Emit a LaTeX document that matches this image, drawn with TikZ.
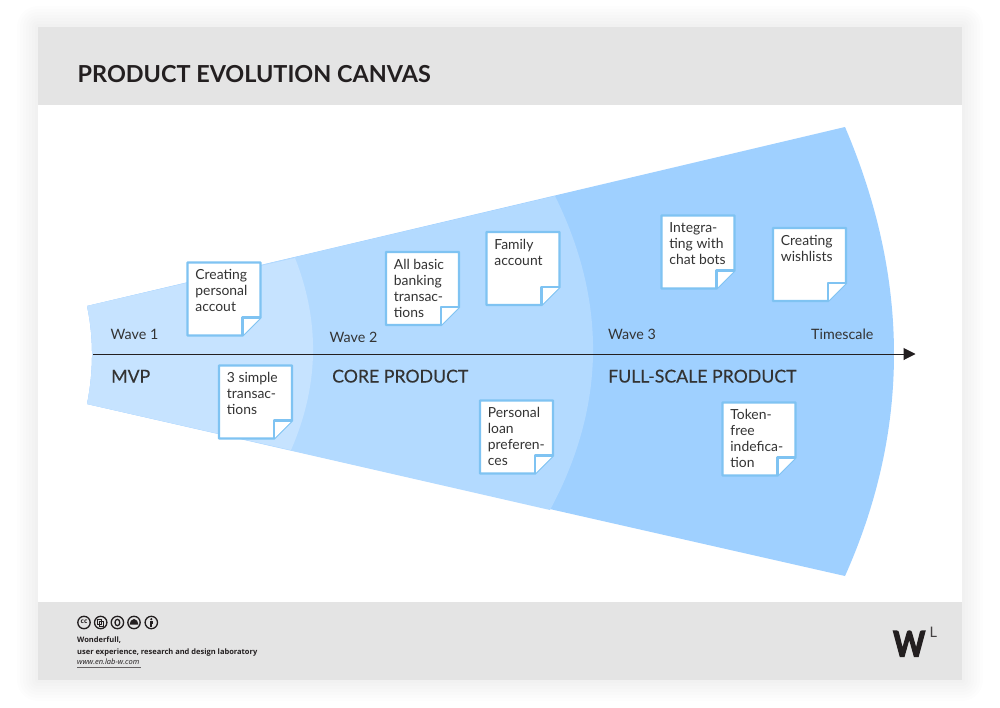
\documentclass[tikz,border=0pt]{standalone}
\usepackage{fontspec}
\setmainfont{Lato}
\newfontfamily\footfont{Open Sans}
\newfontfamily\logofont[UprightFont=* Bold,FakeBold=4]{Lato}
\newfontfamily\stagefont[FakeBold=0.25]{Lato}
\usetikzlibrary{arrows.meta}
\definecolor{bandgray}{HTML}{E4E4E4}
\definecolor{waveA}{HTML}{C6E3FF}
\definecolor{waveB}{HTML}{B3DAFF}
\definecolor{waveC}{HTML}{9FD0FF}
\definecolor{noteblue}{HTML}{7FC3F2}
\definecolor{ink}{HTML}{333333}
\definecolor{darkink}{HTML}{231F20}
\tikzset{
  noteline/.style={draw=noteblue,fill=white,line width=2.4pt,line join=round},
  notetext/.style={anchor=base west,inner sep=0pt,text=ink,font=\fontsize{13.9}{16}\selectfont},
  wavelabel/.style={anchor=base west,inner sep=0pt,text=ink,font=\fontsize{14.3}{16}\selectfont},
  stagelabel/.style={anchor=base west,inner sep=0pt,text=ink,font=\stagefont\fontsize{17.7}{20}\selectfont},
  footlabel/.style={anchor=base west,inner sep=0pt,text=darkink,font=\footfont\fontsize{7.5}{10}\selectfont},
  ccring/.style={draw=darkink,line width=1.3pt,fill=none},
}
\newcommand\notecard[4]{%
  \begin{scope}[shift={(#2,#3)}]
    \path[noteline] (0,0) -- (73,0) -- (73,55) -- (55,73) -- (0,73) -- cycle;
    \path[noteline] (55,73) -- (55,55) -- (73,55);
    \node[notetext] (#1) at (7.7,17) {\parbox[t]{64pt}{\raggedright #4}};
  \end{scope}}
\begin{document}
\begin{tikzpicture}[x=1pt,y=-1pt]
\useasboundingbox (0,0) rectangle (1000,707);
\fill[white] (0,0) rectangle (1000,707);
% soft shadow
\foreach \e in {3,6,...,21}
  \fill[black,opacity=0.008,rounded corners=\e pt] (38-\e,27-\e) rectangle (962+\e,680+\e);
\fill[white] (38,27) rectangle (962,680);
\fill[bandgray] (38,27) rectangle (962,105);
\fill[bandgray] (38,602) rectangle (962,680);
\node[anchor=base west,inner sep=0pt,text=darkink,font=\fontsize{23.4}{26}\selectfont\bfseries] (title) at (77.5,82) {PRODUCT EVOLUTION CANVAS};
% wedge
\fill[waveC] (87,306) -- (845,127) .. controls (910.3,280) and (910.3,429.7) .. (845,576) -- (87,404) .. controls (93.7,371) and (93.7,337) .. cycle;
\fill[waveB] (87,306) -- (555,196) .. controls (607.3,302) and (605.7,406.7) .. (550,510) -- (87,404) .. controls (93.7,371) and (93.7,337) .. cycle;
\fill[waveA] (87,306) -- (295,258) .. controls (320.3,322) and (319,386) .. (291,450) -- (87,404) .. controls (93.7,371) and (93.7,337) .. cycle;
% axis
\coordinate (axisstart) at (93,354);
\coordinate (axisend) at (915.5,354);
\draw[darkink,line width=1pt,-{Triangle[length=12pt,width=12pt]}] (axisstart) -- (axisend);
% labels
\node[wavelabel] (w1) at (110.5,339) {Wave 1};
\node[wavelabel] (w2) at (329.5,342) {Wave 2};
\node[wavelabel] (w3) at (608,339) {Wave 3};
\node[wavelabel] (ts) at (811,339) {Timescale};
\node[stagelabel] (s1) at (111,382.5) {MVP};
\node[stagelabel] (s2) at (332,382.5) {CORE PRODUCT};
\node[stagelabel] (s3) at (608,382.5) {FULL-SCALE PRODUCT};
% notes
\notecard{n1}{187.5}{262.5}{Creating\\personal\\accout}
\notecard{n2}{219}{365.5}{3 simple\\transac-\\tions}
\notecard{n3}{386}{252}{All basic\\banking\\transac-\\tions}
\notecard{n4}{486.5}{232}{Family\\account}
\notecard{n5}{480}{400.5}{Personal\\loan\\preferen-\\ces}
\notecard{n6}{661.5}{215.5}{Integra-\\ting with\\chat bots}
\notecard{n7}{773}{228}{Creating\\wishlists}
\notecard{n8}{722.5}{402.5}{Token-\\free\\indefica-\\tion}
% licence icons
\begin{scope}[shift={(84,622.5)}]
  \draw[ccring] (0,0) circle (6.2);
  \node[inner sep=0pt,text=darkink,font=\footfont\bfseries\fontsize{6.5}{7}\selectfont] (cci) at (0,-0.4) {cc};
\end{scope}
\begin{scope}[shift={(100.7,622.5)}]
  \draw[ccring] (0,0) circle (6.2);
  \draw[darkink,line width=0.9pt] (-3,-3.2) rectangle (1,2) (-1,-1.5) rectangle (3,3.6);
\end{scope}
\begin{scope}[shift={(117.4,622.5)}]
  \draw[ccring] (0,0) circle (6.2);
  \draw[darkink,line width=1.3pt] (0,0) ellipse (2.4 and 3.2);
\end{scope}
\begin{scope}[shift={(134,622.5)}]
  \draw[ccring] (0,0) circle (6.2);
  \fill[darkink] (-4.4,2) .. controls (-4.4,-0.6) and (-2.4,-3.6) .. (0,-3.6) .. controls (2.4,-3.6) and (4.4,-0.6) .. (4.4,2) -- cycle;
\end{scope}
\begin{scope}[shift={(151.3,622.5)}]
  \draw[ccring] (0,0) circle (6.2);
  \fill[darkink] (0,-3.3) circle (1.2);
  \fill[darkink] (-1.7,-1.5) rectangle (1.7,1.4);
  \fill[darkink] (-1,1.4) rectangle (1,4.4);
\end{scope}
% footer text
\node[footlabel] (f1) at (77,642.5) {\bfseries Wonderfull,};
\node[footlabel] (f2) at (77,654) {\bfseries user experience, research and design laboratory};
\node[footlabel] (f3) at (77,664) {\itshape www.en.lab-w.com};
\draw[darkink!70,line width=0.7pt] (77,667) -- (141,667);
% logo
\node[anchor=base west,inner sep=0pt,text=darkink,font=\logofont\fontsize{35}{38}\selectfont] (logoW) at (893,656.5) {\scalebox{0.87}[1]{W}};
\node[anchor=base west,inner sep=0pt,text=darkink!85,font=\fontsize{14.5}{16}\selectfont] (logoL) at (929.5,637) {L};
\end{tikzpicture}
\end{document}
